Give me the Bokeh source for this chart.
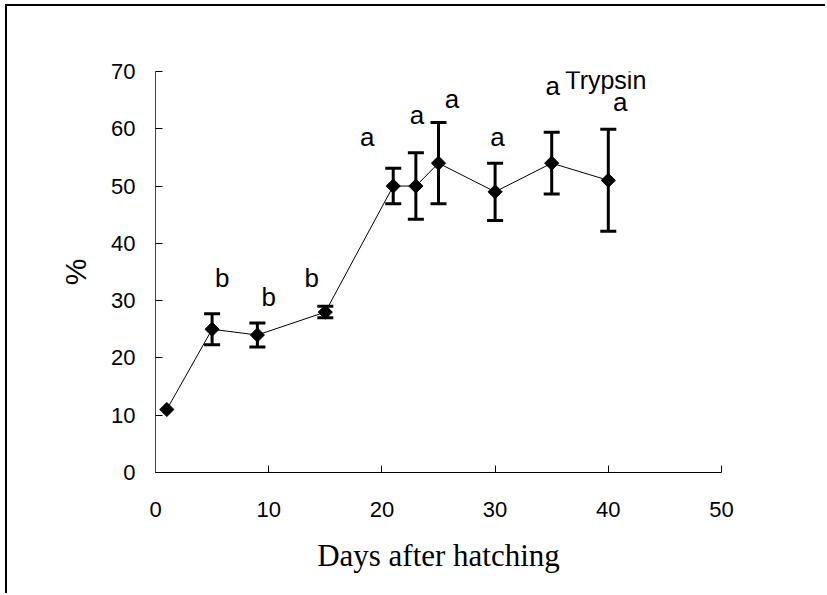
import math
from bokeh.plotting import figure
from bokeh.models import (ColumnDataSource, Whisker, TeeHead, FixedTicker, Label, Range1d)
from bokeh.embed import file_html
from bokeh.resources import INLINE

# ---- data ----
days = [1, 5, 9, 15, 21, 23, 25, 30, 35, 40]
pct = [11, 25, 24, 28, 50, 50, 54, 49, 54, 51]
err = [0, 2.7, 2.1, 1.0, 3.1, 5.8, 7.1, 5.0, 5.4, 8.9]

lbl_x = [5.9, 10.0, 13.8, 18.7, 23.1, 26.2, 30.2, 35.1, 41.05]
lbl_y = [34.0, 30.7, 34.0, 58.6, 62.4, 65.2, 58.6, 67.4, 64.7]
lbl_text = ["b", "b", "b", "a", "a", "a", "a", "a", "a"]

series_name = "Trypsin"
series_x = 36.2
series_y = 68.6

x_ticks = [0, 10, 20, 30, 40, 50]
y_ticks = [0, 10, 20, 30, 40, 50, 60, 70]
x_title = "Days after hatching"
y_title = "%"

W, H = 820, 589
p = figure(width=W, height=H, output_backend="svg", toolbar_location=None,
           x_range=Range1d(0, 50), y_range=Range1d(0, 70),
           min_border_left=148, min_border_right=106,
           min_border_top=65, min_border_bottom=123)
# page frame: left and top edges of the surrounding box
p.styles = {"margin-left": "5px", "margin-top": "4px",
            "border-left": "2px solid black", "border-top": "2px solid black"}
p.grid.visible = False
p.outline_line_color = None
p.background_fill_color = "white"
p.border_fill_color = "white"

for ax, ticks in ((p.xaxis[0], x_ticks), (p.yaxis[0], y_ticks)):
    ax.ticker = FixedTicker(ticks=ticks)
    ax.major_tick_in = 7
    ax.major_tick_out = 0
    ax.minor_tick_line_color = None
    ax.axis_line_color = "black"
    ax.major_tick_line_color = "black"
    ax.major_label_text_font = "Liberation Sans"
    ax.major_label_text_font_size = "22px"
    ax.major_label_text_color = "black"
    ax.axis_label_text_font_style = "normal"
    ax.axis_label_text_color = "black"

p.yaxis[0].axis_line_color = "#444444"
p.xaxis[0].major_label_standoff = 29
p.yaxis[0].major_label_standoff = 20
p.xaxis[0].axis_label = x_title
p.xaxis[0].axis_label_text_font = "Liberation Serif"
p.xaxis[0].axis_label_text_font_size = "31px"
p.xaxis[0].axis_label_standoff = 18
p.yaxis[0].axis_label = y_title
p.yaxis[0].axis_label_text_font = "Liberation Sans"
p.yaxis[0].axis_label_text_font_size = "30px"
p.yaxis[0].axis_label_standoff = 16

# connecting line
p.line(days, pct, line_color="black", line_width=1)

# error bars
ed = [(d, v - e, v + e) for d, v, e in zip(days, pct, err) if e > 0]
esrc = ColumnDataSource(dict(x=[t[0] for t in ed], lower=[t[1] for t in ed], upper=[t[2] for t in ed]))
p.add_layout(Whisker(base="x", lower="lower", upper="upper", source=esrc,
                     line_color="black", line_width=3,
                     upper_head=TeeHead(size=16, line_width=3, line_color="black"),
                     lower_head=TeeHead(size=16, line_width=3, line_color="black")))

# markers
p.scatter(days, pct, marker="square", angle=math.pi / 4, size=10,
          fill_color="black", line_color="black")

# significance letters
for x, y, t in zip(lbl_x, lbl_y, lbl_text):
    p.add_layout(Label(x=x, y=y, text=t, text_align="center", text_baseline="alphabetic",
                       text_font="Liberation Sans", text_font_size="26px", text_color="black"))
p.add_layout(Label(x=series_x, y=series_y, text=series_name, text_align="left",
                   text_baseline="alphabetic", text_font="Liberation Sans",
                   text_font_size="25px", text_color="black"))

open("out.html", "w").write(file_html(p, INLINE))
